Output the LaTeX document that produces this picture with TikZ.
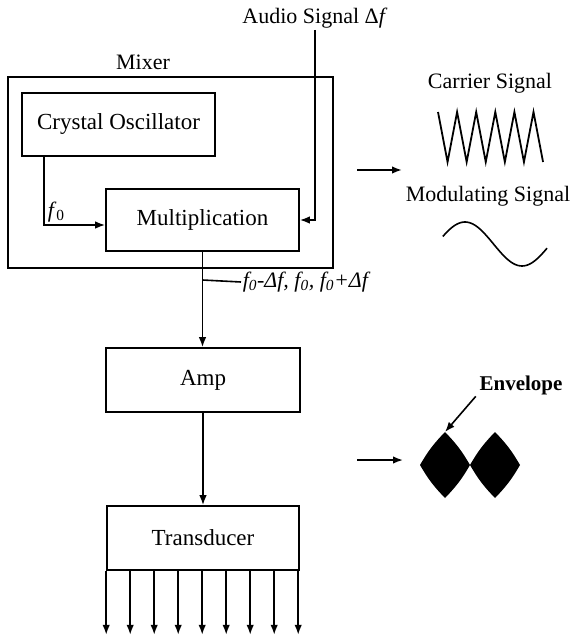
\documentclass[tikz,border=0pt]{standalone}
\usepackage{fontspec}
\setmainfont{Liberation Serif}
\usetikzlibrary{arrows.meta,positioning}
\newcommand{\fzero}{\textit{f}\textsubscript{0}}

\begin{document}
\begin{tikzpicture}[x=1pt,y=-1pt,line width=1.6pt,
    box/.style={draw,rectangle,inner sep=0pt,font=\fontsize{23}{27}\selectfont},
    lbl/.style={font=\fontsize{22}{26}\selectfont,inner sep=1pt},
    arr/.style={-{Latex[length=10pt,width=7.5pt]}}]
  \useasboundingbox (0,0) rectangle (573,637);
  % mixer stage
  \node[box,minimum width=325pt,minimum height=191pt] (mixer) at (170.5,172.5) {};
  \node[lbl] (mixlbl) at (143,62) {Mixer};
  \node[box,minimum width=193pt,minimum height=63pt] (osc) at (118.5,124.5) {Crystal Oscillator};
  \node[box,minimum width=193pt,minimum height=62pt] (mult) at (202.5,220) {Multiplication};
  \node[lbl] (audio) at (315,18) {Audio Signal Δ\textit{f}};
  \node[lbl,anchor=south west] (fz) at (46,224) {\fzero};
  \draw[arr] ([xshift=-74.5pt]osc.south) |- ([yshift=-5pt]mult.west);
  \draw[arr] (audio.south) |- (mult.east);
  % amplifier and transducer
  \node[box,minimum width=194pt,minimum height=64pt] (amp) at (203,380) {Amp};
  \node[box,minimum width=192pt,minimum height=64pt] (trans) at (203,538) {Transducer};
  \draw[arr] (mult.south) -- (mult.south |- amp.north);
  \draw[arr] (amp) -- (trans);
  \coordinate (br) at (mult.south |- 0,280);
  \node[lbl,anchor=west,font=\fontsize{22}{26}\selectfont\itshape] (freqs) at (241,282)
    {f\textsubscript{0}-Δf, f\textsubscript{0}, f\textsubscript{0}+Δf};
  \draw (br) -- (freqs.west);
  \foreach \i in {0,...,8}
    \draw[arr] ([xshift=\i*24pt]trans.south west) -- ++(0,64);
  % signals on the right
  \node[lbl] (carrier) at (490,83) {Carrier Signal};
  \draw[line width=1.8pt] plot[domain=0:11,samples=12] ({438+9.55*\x},{137-25*cos(180*\x)});
  \coordinate (a1) at (357,170);
  \coordinate (b1) at (402,170);
  \draw[arr] (a1) -- (b1);
  \node[lbl] (modul) at (488,196) {Modulating Signal};
  \draw plot[domain=20:349,samples=60,smooth] ({436.5+\x*0.31667},{244-22*sin(\x)});
  \node[lbl,font=\fontsize{21}{25}\selectfont\bfseries] (env) at (521,385) {Envelope};
  \coordinate (envtip) at (445,432);
  \draw[arr] ([xshift=-2pt]env.south west) -- (envtip);
  \coordinate (a2) at (357,460);
  \coordinate (b2) at (403,460);
  \draw[arr] (a2) -- (b2);
  \foreach \cx in {445,495}
    \fill ({\cx-25},465) to[bend left=7] (\cx,432) to[bend left=7] ({\cx+25},465)
      to[bend left=7] (\cx,498) to[bend left=7] cycle;
\end{tikzpicture}
\end{document}
